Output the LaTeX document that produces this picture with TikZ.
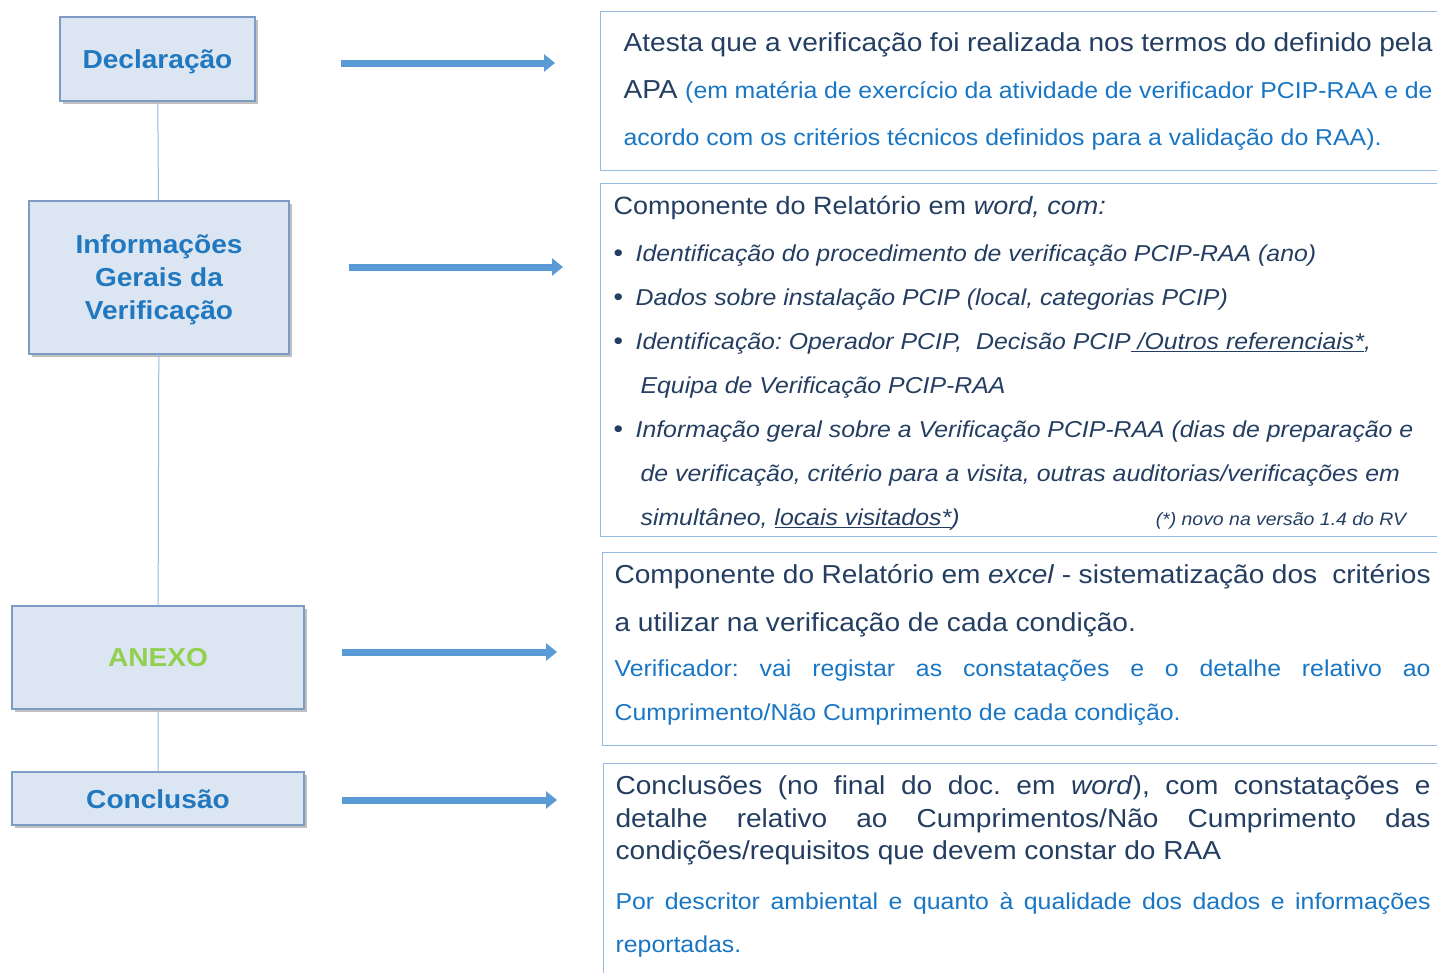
\documentclass[tikz,border=0pt]{standalone}
\usepackage{fontspec}
\setmainfont{Liberation Sans}[FakeStretch=1.08]
\usetikzlibrary{arrows.meta,shadows}
\definecolor{boxfill}{RGB}{220,230,242}
\definecolor{lboxline}{RGB}{125,155,195}
\definecolor{lefttext}{RGB}{33,120,190}
\definecolor{anexogreen}{RGB}{146,208,80}
\definecolor{arrowblue}{RGB}{91,155,213}
\definecolor{rboxline}{RGB}{150,186,226}
\definecolor{linkline}{RGB}{150,185,222}
\definecolor{darktext}{RGB}{36,62,98}
\definecolor{bluetext}{RGB}{24,118,196}
\frenchspacing
\newcommand{\jline}[1]{\noindent\hbox to\hsize{#1}}
\newcommand{\bul}{\makebox[22pt][l]{\fontsize{25}{20}\selectfont\textbullet}}
\newcommand{\blue}{\color{bluetext}\fontsize{23}{44}\selectfont}
\tikzset{
  lbox/.style={draw=lboxline,fill=boxfill,line width=1.2pt,
    drop shadow={shadow xshift=3pt,shadow yshift=-3pt,opacity=.35,fill=black!70},
    font=\fontsize{26}{33}\selectfont\bfseries,text=lefttext,align=center},
  rbox/.style={draw=rboxline,line width=1.2pt,anchor=north west,align=flush left,
    inner ysep=0pt,text=darktext},
  link/.style={draw=linkline,line width=1pt},
  bigarrow/.style={draw=arrowblue,line width=7pt,-{Triangle[length=11pt,width=17pt]}}
}
\begin{document}
\begin{tikzpicture}[x=1pt,y=-1pt]
  \useasboundingbox (0,0) rectangle (1437,972);
  \fill[white] (0,0) rectangle (1437,972);
  \clip (0,0) rectangle (1437,972);
  \node[lbox,minimum width=195pt,minimum height=84pt,text height=19pt,text depth=1pt] (decl) at (157.5,59) {Declaração};
  \node[lbox,minimum width=260pt,minimum height=153pt,text depth=-6pt] (info) at (159,277.5)
   {Informações\\Gerais da\\Verificação};
  \node[lbox,minimum width=292pt,minimum height=103pt,text height=19pt,text depth=1pt,
   text=anexogreen] (anexo) at (158,657.5) {ANEXO};
  \node[lbox,minimum width=292pt,minimum height=53pt,text height=19pt,text depth=0pt] (concl) at (158,798.5) {Conclusão};
  \draw[link] (decl) -- (info) -- (anexo) -- (concl);

  \node[rbox,inner xsep=23pt,text width=809pt,text height=40pt,text depth=119pt] (atesta) at (600,11)
   {\fontsize{26}{47}\selectfont
    \jline{Atesta que a verificação foi realizada nos termos do definido pela}\\
    \jline{APA {\blue(em matéria de exercício da atividade de verificador PCIP-RAA e de}}\\
    {\blue acordo com os critérios técnicos definidos para a validação do RAA).}\par};
  \node[rbox,inner xsep=13pt,text width=817pt,text height=31pt,text depth=322pt] (word) at (600,183)
   {\fontsize{23}{44}\selectfont
    {\fontsize{25}{44}\selectfont Componente do Relatório em \textit{word, com:}}\\[3pt]
    \bul\textit{Identificação do procedimento de verificação PCIP-RAA (ano)}\\
    \bul\textit{Dados sobre instalação PCIP (local, categorias PCIP)}\\
    \bul\textit{Identificação: Operador PCIP,\ \ Decisão PCIP\underline{\textit{\ /Outros referenciais*}},}\\
    \hspace*{27pt}\textit{Equipa de Verificação PCIP-RAA}\\
    \bul\textit{Informação geral sobre a Verificação PCIP-RAA (dias de preparação e}\\
    \hspace*{27pt}\textit{de verificação, critério para a visita, outras auditorias/verificações em}\\
    \hspace*{27pt}\textit{simultâneo, \underline{\textit{locais visitados*}})}\hfill
    {\fontsize{18}{44}\selectfont\textit{(*) novo na versão 1.4 do RV}}\hspace*{23pt}\par};
  \node[rbox,inner xsep=12pt,text width=816pt,text height=31pt,text depth=162pt] (excel) at (602,552)
   {\fontsize{26}{44}\selectfont
    \jline{Componente do Relatório em \textit{excel} - sistematização dos\ \ critérios}\\[4pt]
    a utilizar na verificação de cada condição.\\[1pt]
    {\blue\jline{Verificador: vai registar as constatações e o detalhe relativo ao}\\
    Cumprimento/Não Cumprimento de cada condição.}\par};
  \node[rbox,inner xsep=12pt,text width=815pt,text height=31pt,text depth=230pt] (concls) at (603,763)
   {\fontsize{26}{32.5}\selectfont
    \jline{Conclusões (no final do doc. em \textit{word}), com constatações e}\\
    \jline{detalhe relativo ao Cumprimentos/Não Cumprimento das}\\
    condições/requisitos que devem constar do RAA\\[6pt]
    {\blue\jline{Por descritor ambiental e quanto à qualidade dos dados e informações}\\[10.5pt]
    reportadas.}\par};

  \foreach \n/\xa/\xb/\y in {1/341/555/63,2/349/563/267,3/342/557/652,4/342/557/800}{
    \coordinate (s\n) at (\xa,\y);
    \coordinate (e\n) at (\xb,\y);
    \draw[bigarrow] (s\n) -- (e\n);
  }
\end{tikzpicture}
\end{document}
